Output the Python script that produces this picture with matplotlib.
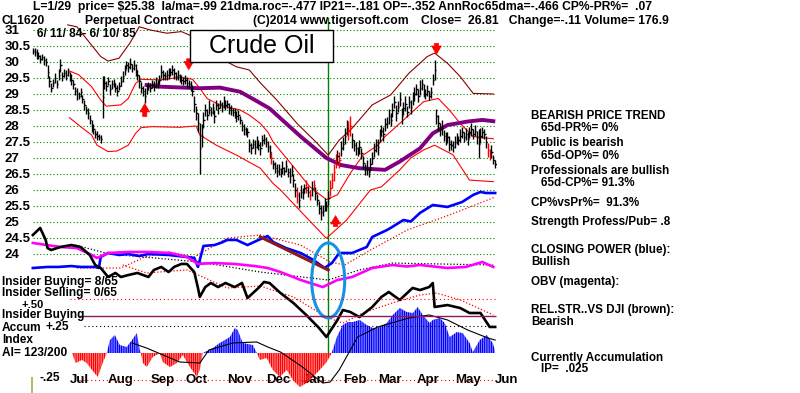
import numpy as np
import matplotlib
matplotlib.use('Agg')
import matplotlib.pyplot as plt
from matplotlib.patches import Ellipse, Rectangle

plt.rcParams['font.family'] = ['Liberation Sans', 'DejaVu Sans']
plt.rcParams['font.weight'] = 'bold'
plt.rcParams['hatch.linewidth'] = 1.0

# ---- daily price bars, 6/11/84 - 6/10/85 (trading day index = position)
close = [30.35, 30.30, 30.25, 30.20, 30.10, 30.15, 30.05, 30.00,
         29.70, 29.40, 29.20, 29.35,
         29.50, 29.30, 29.60, 29.90, 29.55,
         29.65, 29.60, 29.70, 29.55, 29.45,
         29.30, 29.10, 29.00, 28.95, 29.05, 28.85,
         28.65, 28.50, 28.40, 28.20,
         28.00, 27.90, 27.75, 27.70, 27.65, 27.60,
         28.90, 29.35,
         29.25, 29.40, 29.15, 29.30, 29.35, 29.20, 29.10, 29.25,
         29.40, 29.55, 29.75, 29.90, 29.85, 29.95, 29.80, 29.90, 29.75, 29.60,
         29.40, 29.20, 29.10, 28.95, 29.15,
         29.25, 29.20, 29.30, 29.25, 29.35, 29.30, 29.45,
         29.70, 29.60, 29.55, 29.60, 29.65, 29.70, 29.75, 29.65, 29.55, 29.60, 29.50, 29.45,
         29.40, 29.45, 29.35, 29.30, 29.25, 29.10,
         28.70, 28.40, 28.10,
         27.30,
         27.70, 28.20, 28.50, 28.35, 28.60, 28.45, 28.55,
         28.30, 28.65, 28.55, 28.70, 28.60, 28.75, 28.65, 28.70, 28.55, 28.50,
         28.45, 28.40, 28.30, 28.35, 28.20,
         28.00, 27.90, 27.85, 27.80,
         27.40, 27.30, 27.45, 27.35, 27.50, 27.40, 27.30, 27.55, 27.60,
         27.50, 27.35, 27.20, 27.00,
         26.80, 26.70, 26.60,
         26.65, 26.55, 26.70, 26.60, 26.75, 26.55, 26.45, 26.60, 26.30,
         26.00, 25.85, 25.70, 25.95, 25.90, 26.05,
         26.10, 25.95, 25.85, 26.05, 26.15, 25.90,
         25.70, 25.45, 25.30, 25.35, 25.55, 25.50, 25.75,
         26.05, 26.30, 26.55,
         26.90, 27.05, 26.95, 27.30, 27.45,
         27.70, 27.95, 27.85, 28.00, 27.55,
         27.40, 27.30, 27.20, 27.35, 27.15,
         26.85, 26.65, 26.70, 26.55, 26.80,
         27.00, 27.25, 27.40, 27.35, 27.70, 27.85, 27.75, 28.05,
         28.10, 28.30, 28.20,
         28.50, 28.75, 28.40, 28.60, 28.85,
         28.30, 28.55, 28.70, 28.45, 28.75, 28.60,
         28.85, 29.00, 29.15, 28.95, 29.20, 29.30, 29.10,
         29.00, 29.10, 28.95, 29.05,
         29.45, 29.75,
         28.30,
         28.10, 27.90, 27.95, 27.70, 27.60, 27.65, 27.45, 27.40, 27.35, 27.50,
         27.60, 27.55, 27.70, 27.80, 27.65, 27.75, 27.60,
         27.80, 27.90, 27.75, 27.85, 27.65, 27.45, 27.70, 27.80, 27.75,
         27.50, 27.25, 27.10, 27.20,
         26.95, 26.81]

# bar height (high - low) in cents
spread = [20, 25, 30, 20, 25, 20, 30, 25,
          40, 35, 30, 25,
          30, 25, 35, 40, 30,
          25, 30, 25, 30, 35,
          30, 25, 35, 20, 30, 25,
          30, 25, 35, 30,
          35, 30, 25, 30, 20, 25,
          130, 40,
          30, 25, 35, 30, 25, 30, 35, 25,
          30, 35, 30, 25, 30, 35, 25, 30, 35, 30,
          40, 35, 30, 45, 30,
          25, 30, 25, 30, 35, 25, 30,
          40, 30, 25, 30, 35, 25, 30, 35, 25, 30, 25, 30,
          25, 30, 35, 25, 30, 35,
          50, 45, 60,
          160,
          70, 50, 40, 35, 45, 30, 35,
          40, 30, 35, 25, 30, 40, 30, 25, 35, 30,
          25, 30, 35, 30, 25,
          30, 35, 25, 30,
          40, 35, 30, 45, 35, 30, 40, 35, 30,
          30, 35, 40, 35,
          30, 35, 40,
          35, 30, 40, 25, 35, 30, 45, 35, 40,
          45, 50, 50, 40, 35, 30,
          40, 35, 30, 45, 35, 40,
          35, 40, 45, 35, 40, 30, 45,
          50, 45, 55,
          45, 40, 50, 45, 40,
          50, 45, 60, 60, 45,
          35, 40, 30, 45, 35,
          40, 35, 45, 30, 40,
          35, 45, 40, 50, 40, 35, 45, 40,
          35, 45, 40,
          45, 40, 50, 35, 45,
          50, 40, 45, 35, 40, 45,
          40, 45, 35, 40, 45, 35, 40,
          30, 35, 30, 35,
          35, 60,
          45,
          50, 40, 45, 35, 40, 35, 45, 30, 35, 40,
          35, 30, 40, 35, 30, 35, 40,
          35, 40, 30, 35, 40, 90, 45, 35, 30,
          40, 45, 35, 40,
          30, 25]

red_bars = [130, 144, 149, 151, 153, 162, 163, 164, 165, 167, 172, 173, 248, 249]

# ---- bands and moving average (day, price)
upper_inner = [(20, 29.72), (25, 29.6), (32, 29.23), (37, 28.81), (40, 28.62), (48, 28.66),
               (52, 28.86), (56, 29.33), (59, 29.46), (69, 29.44), (80, 29.52), (87, 29.46),
               (91, 29.18), (95, 28.86), (102, 28.65), (113, 28.5), (118, 28.34), (124, 28.08),
               (128, 27.82), (131, 27.5), (142, 26.73), (151, 26.1), (160, 25.7), (166, 25.85),
               (173, 26.52), (180, 27.09), (188, 27.4), (192, 27.67), (200, 28.08), (213, 28.76),
               (221, 28.86), (227, 28.5), (233, 28.08), (240, 27.67), (251, 27.6)]
lower_inner = [(20, 28.26), (26, 27.98), (32, 27.72), (35, 27.4), (41, 27.2), (46, 27.22),
               (52, 27.4), (56, 27.77), (59, 27.95), (65, 27.98), (80, 27.96), (89, 28.0),
               (91, 27.72), (100, 27.4), (111, 27.09), (124, 26.68), (131, 26.2), (135, 26.0),
               (147, 25.27), (160, 24.49), (171, 25.06), (184, 26.0), (190, 26.1), (200, 26.63),
               (206, 27.0), (213, 27.25), (219, 27.4), (229, 27.1), (238, 26.31), (251, 26.26)]
upper_outer = [(19, 31.16), (24, 31.1), (31, 30.6), (37, 30.17), (41, 30.03), (47, 30.12),
               (53, 30.6), (58, 31.1), (64, 31.0), (73, 30.9), (81, 30.95), (95, 30.6),
               (106, 30.0), (111, 29.85), (118, 29.75), (124, 29.35), (133, 28.81), (144, 28.08),
               (155, 27.46), (161, 27.09), (167, 27.56), (174, 27.93), (185, 28.66), (195, 28.97),
               (205, 29.65), (215, 30.17), (219, 30.28), (226, 29.96), (233, 29.54), (240, 29.02),
               (251, 29.0)]
ma65 = [(62, 29.28), (69, 29.23), (91, 29.18), (102, 29.2), (113, 29.07), (122, 28.78),
        (129, 28.55), (146, 27.67), (160, 27.0), (168, 26.78), (178, 26.68), (192, 26.63),
        (200, 26.89), (211, 27.3), (218, 27.77), (226, 28.03), (237, 28.14), (245, 28.19),
        (251, 28.15)]

# ---- indicator lines (day, index units)
closing_power = [(0, 48), (8, 48.7), (14, 48.7), (21, 49.3), (26, 48.7), (34, 48.7), (36, 48),
                 (37, 55.3), (41, 58), (47, 56.7), (52, 57.3), (58, 56), (63, 57.3), (74, 56.7),
                 (84, 55.3), (88, 54.7), (90, 48.7), (93, 62.7), (99, 63.3), (103, 65), (106, 66.7),
                 (111, 66.7), (117, 63.3), (123, 66.7), (128, 69.3), (131, 65.3), (138, 61.3),
                 (146, 58), (153, 53.3), (159, 48), (163, 51.3), (167, 58), (174, 58), (182, 62),
                 (185, 68.7), (193, 73.3), (195, 74.7), (202, 80), (206, 79), (211, 84.7),
                 (218, 90), (226, 88.7), (234, 92), (240, 96.7), (244, 98.7), (247, 98), (252, 98)]
obv = [(0, 64.7), (15, 62), (24, 61.3), (31, 57.3), (35, 54.7), (41, 58), (52, 58.7), (63, 58.7),
       (75, 58), (84, 55.3), (90, 50.7), (99, 51.3), (110, 50.7), (121, 49.3), (128, 48),
       (135, 45.3), (146, 40), (158, 35.3), (166, 40), (174, 42), (185, 48), (196, 50),
       (204, 49), (211, 50), (226, 48), (236, 48.7), (245, 52), (251, 48.7)]
rel_strength = [(0, 70), (4, 74.7), (7, 66.7), (8, 61.3), (10, 60), (15, 62), (21, 63.3),
                (26, 62), (31, 56.7), (34, 50), (37, 48), (41, 42), (45, 44.7), (48, 42),
                (52, 43.3), (57, 44.7), (63, 42), (66, 46.7), (70, 48.7), (74, 45.3), (77, 48.7),
                (81, 50.7), (84, 50.7), (88, 45.3), (90, 34.7), (91, 28.7), (94, 35.3), (97, 38),
                (101, 35.3), (105, 38), (110, 35.3), (114, 38), (117, 28), (123, 34.7),
                (126, 38.7), (129, 38), (135, 31.3), (142, 24.7), (149, 16.7), (156, 8), (160, 2),
                (166, 13.3), (169, 20), (173, 18.7), (178, 15.3), (185, 22), (190, 28.7),
                (194, 32), (200, 26.7), (207, 34.7), (211, 33.3), (216, 35.3), (218, 38),
                (219, 22), (226, 23.3), (233, 21.3), (238, 18), (244, 18), (249, 8.7), (252, 8.7)]
obv_ma = [(23, 63.3), (42, 57.3), (91, 52), (124, 45.3), (161, 40), (178, 46.7), (196, 51.3),
          (251, 50)]
cp_ma = [(24, 48), (48, 48), (61, 55.3), (74, 58.7), (88, 55.3), (106, 68), (124, 70),
         (146, 63.3), (162, 52), (170, 50), (184, 60), (204, 73.3), (227, 83.3), (252, 95.3)]
rs_ma = [(49, 50), (62, 44.7), (84, 46.7), (106, 34.7), (124, 36), (142, 28.7), (160, 15.3),
         (169, 11.3), (180, 18), (196, 24.7), (211, 30), (220, 31.3), (233, 26.7), (251, 16.7)]
rs_trend = [(124, 68.7), (161, 46.7)]

# ---- accumulation index (day, AI)
accum = [(21.3, 0), (23.4, -0.093), (26.7, -0.065), (29.4, -0.093), (32.2, -0.157),
         (35.4, -0.222), (38.1, -0.093), (40.3, 0), (42.0, 0.12), (44.7, 0.167), (47.4, 0.074),
         (51.2, 0.056), (54.0, 0.12), (56.7, 0.185), (58.3, 0.028), (58.9, 0), (60.0, -0.093),
         (62.1, -0.13), (65.4, -0.037), (69.2, 0), (70.8, -0.083), (74.7, -0.13), (78.5, -0.093),
         (81.7, -0.019), (85.6, -0.13), (89.4, -0.222), (91.0, -0.157), (92.6, 0), (98.1, 0.046),
         (101.9, 0.093), (107.4, 0.148), (110.1, 0.231), (111.7, 0.213), (114.4, 0.093),
         (119.9, 0.074), (122.1, 0), (123.7, -0.065), (127.5, -0.046), (130.8, -0.157),
         (134.6, -0.222), (138.4, -0.157), (141.7, -0.25), (145.5, -0.315), (149.3, -0.278),
         (152.6, -0.222), (156.4, -0.157), (160.2, -0.083), (162.9, 0), (165.7, 0.148),
         (168.9, 0.259), (171.7, 0.287), (174.4, 0.287), (178.2, 0.306), (182.0, 0.259),
         (185.3, 0.231), (189.1, 0.24), (192.9, 0.278), (196.2, 0.352), (200.0, 0.417),
         (203.8, 0.38), (207.1, 0.37), (209.8, 0.426), (212.5, 0.352), (216.3, 0.278),
         (218.0, 0.306), (221.8, 0.324), (224.5, 0.278), (227.2, 0.148), (231.1, 0.194),
         (234.3, 0.185), (238.1, 0.093), (239.8, 0.009), (243.6, 0.12), (247.4, 0.167),
         (250.7, 0.093), (251.8, 0.028)]
accum_ma = [(54, 0.093), (62, 0.046), (80, -0.083), (91, -0.093), (96, 0.028), (109, 0.093),
            (122, 0.102), (128, 0.056), (135, 0.009), (147, -0.13), (158, -0.278),
            (162, -0.269), (167, -0.157), (177, 0.148), (188, 0.241), (205, 0.324),
            (216, 0.352), (226, 0.306), (237, 0.213), (248, 0.139), (252, 0.12)]

months = ['Jul', 'Aug', 'Sep', 'Oct', 'Nov', 'Dec', 'Jan', 'Feb', 'Mar', 'Apr', 'May', 'Jun']
month_start = [15, 36, 59, 78, 101, 122, 142, 164, 183, 204, 225, 247]
price_levels = np.arange(24, 31.01, 0.5)

signal_day = 161  # L=1/29

W, H = 800, 393
fig = plt.figure(figsize=(W / 100, H / 100), dpi=100)
fig.patch.set_facecolor('white')


def fx(px):
    return px / W


def fy(py):
    return 1 - py / H


rect = [fx(31), 0, fx(497) - fx(31), 1]
ax = fig.add_axes(rect)
ax_ind = fig.add_axes(rect, sharex=ax)
ax_ai = fig.add_axes(rect, sharex=ax)
for a in (ax, ax_ind, ax_ai):
    a.patch.set_visible(False)
    for s in a.spines.values():
        s.set_visible(False)
ax_ind.axis('off')
ax_ai.axis('off')

ax.set_xlim(-1, 253)
ax.set_ylim(31 - (H - 30) / 32, 31 + 30 / 32)
ax_ind.set_ylim((340 - H) / 1.5, 340 / 1.5)
ax_ai.set_ylim(-(H - 353) / 108, 353 / 108)

# price grid and axis labels
ax.hlines(price_levels, 0, 252.5, colors='#008000', linestyles=(0, (1, 2)), lw=0.8, zorder=0)
ax.set_xticks([])
ax.set_yticks(price_levels, [f'{v:g}' for v in price_levels])
ax.tick_params(axis='y', length=0, pad=19, labelsize=9.5)
for t in ax.get_yticklabels():
    t.set_horizontalalignment('left')
for m, d in zip(months, month_start):
    ax.text(d + 5, fy(380), m, transform=ax.get_xaxis_transform(), ha='left', va='center',
            fontsize=9.5)

# bands / moving average
for pts, col, lw in [(upper_outer, '#8b0000', 0.8), (upper_inner, '#ff0000', 0.8),
                     (lower_inner, '#ff0000', 0.8)]:
    xs, ys = zip(*pts)
    ax.plot(xs, ys, color=col, lw=lw, zorder=2)
xs, ys = zip(*ma65)
ax.plot(xs, ys, color='#800080', lw=2.8, zorder=2)

# price bars
days = np.arange(len(close))
close = np.array(close)
half = np.array(spread) / 200.0
cols = ['#ff0000' if i in red_bars else 'black' for i in days]
ax.vlines(days, close - half, close + half, colors=cols, lw=1.0, zorder=3)
ax.hlines(close, days, days + 0.8, colors=cols, lw=1.0, zorder=3)

# signal arrows
arrow_kw = dict(arrowstyle='simple,head_width=0.7,head_length=0.6,tail_width=0.3',
                fc='#ff0000', ec='#ff0000', lw=0.5, mutation_scale=10,
                shrinkA=0, shrinkB=0)
for d, tail, tip in [(61, 28.30, 28.70), (165, 24.86, 25.20), (85, 30.10, 29.76),
                     (220, 30.58, 30.24)]:
    ax.annotate('', xy=(d, tip), xytext=(d, tail), arrowprops=arrow_kw, zorder=4)

ax.axvline(signal_day, ymin=fy(355), ymax=fy(18), color='#008000', lw=1.0, zorder=1)

# indicators
for pts, col in [(cp_ma, '#ff0000'), (rs_ma, '#ff0000'), (obv_ma, 'black')]:
    xs, ys = zip(*pts)
    ax_ind.plot(xs, ys, color=col, lw=0.9, ls=(0, (1, 1.6)))
for pts, col in [(closing_power, '#0000ff'), (obv, '#ff00ff'), (rel_strength, 'black')]:
    xs, ys = zip(*pts)
    ax_ind.plot(xs, ys, color=col, lw=1.9)
xs, ys = zip(*rs_trend)
ax_ind.plot(xs, ys, color='#8b1a1a', lw=2.2)
ax_ind.add_patch(Ellipse((signal_day, 39.7), width=18, height=50, fill=False,
                         ec='#1a90e6', lw=2.2, zorder=5))

# accumulation index
ad, av = map(np.array, zip(*accum))
ax_ai.fill_between(ad, 0, np.maximum(av, 0), facecolor='none', edgecolor='#0000ff',
                   hatch='|' * 9, lw=0)
ax_ai.fill_between(ad, 0, np.minimum(av, 0), facecolor='none', edgecolor='#ff0000',
                   hatch='|' * 9, lw=0)
xs, ys = zip(*accum_ma)
ax_ai.plot(xs, ys, color='black', lw=0.8)
ax_ai.hlines(0.5, 20, 252.5, colors='#ff0000', linestyles=(0, (1, 2.5)), lw=0.8)
ax_ai.hlines(0.25, 28, 252.5, colors='black', linestyles=(0, (1, 2.5)), lw=0.8)
ax_ai.hlines(-0.25, 25, 252.5, colors='#ff0000', linestyles=(0, (1, 2.5)), lw=0.8)
ax_ai.hlines(0.343, 25, 252.5, colors='#8b1a5a', lw=1.0)
ax_ai.vlines(-0.5, -0.37, -0.22, colors='#b5a642', lw=1.2)

# title box
fig.add_artist(Rectangle((fx(190), fy(62)), fx(333) - fx(190), fy(30) - fy(62),
                         transform=fig.transFigure, fc='white', ec='black', lw=1.0, zorder=5))
fig.text(fx(262), fy(46), 'Crude Oil', fontsize=18, fontweight='normal', ha='center',
         va='center', zorder=6)

header = [(33, 7, 'L=1/29  price= $25.38  la/ma=.99 21dma.roc=-.477 IP21=-.181 OP=-.352 '
                  'AnnRoc65dma=-.466 CP%-PR%=  .07'),
          (2, 21, 'CL1620'), (85, 21, 'Perpetual Contract'),
          (253, 21, '(C)2014 www.tigersoft.com'),
          (421, 21, 'Close=  26.81   Change=-.11 Volume= 176.9')]
left = [(37, 34, '6/ 11/ 84- 6/ 10/ 85'),
        (2, 282, 'Insider Buying= 8/65'), (2, 293, 'Insider Selling= 0/65'),
        (2, 315, 'Insider Buying'), (2, 328, 'Accum'),
        (45, 327, '+.25'), (2, 340, 'Index'), (2, 353, 'AI= 123/200'), (40, 378, '-.25')]
side = [(531, 116, 'BEARISH PRICE TREND'), (541, 128, '65d-PR%= 0%'),
        (531, 143, 'Public is bearish'), (541, 156, '65d-OP%= 0%'),
        (531, 171, 'Professionals are bullish'), (541, 183, '65d-CP%= 91.3%'),
        (531, 203, 'CP%vsPr%=  91.3%'), (531, 222, 'Strength Profess/Pub= .8'),
        (531, 250, 'CLOSING POWER (blue):'), (531, 262, 'Bullish'),
        (531, 282, 'OBV (magenta):'), (531, 310, 'REL.STR..VS DJI (brown):'),
        (531, 322, 'Bearish'), (531, 358, 'Currently Accumulation'), (541, 369, 'IP=  .025')]
for x, y, s in header:
    fig.text(fx(x), fy(y), s, fontsize=8.7, ha='left', va='center', zorder=7)
for x, y, s in left:
    fig.text(fx(x), fy(y), s, fontsize=8.6, ha='left', va='center', zorder=7)
# the +.50 scale label sits half hidden under the insider text
fig.text(fx(22), fy(305), '+.50', fontsize=8.0, ha='left', va='center', zorder=6)
for x, y, s in side:
    fig.text(fx(x), fy(y), s, fontsize=8.4, ha='left', va='center', zorder=7)

fig.savefig('out.png', dpi=100)
